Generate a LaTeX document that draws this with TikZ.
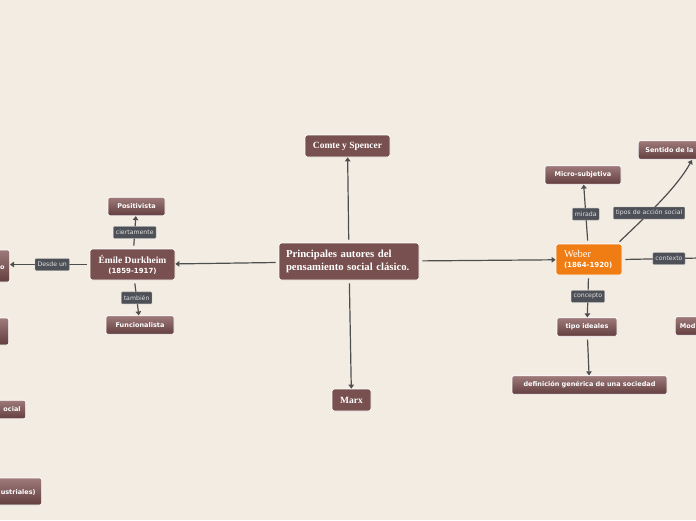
\documentclass[tikz,border=0pt]{standalone}
\usepackage{fontspec}
\usetikzlibrary{arrows.meta}
\newfontfamily\tnr{Liberation Serif}
\newfontfamily\dvs{DejaVu Sans}
\definecolor{bgc}{RGB}{243,236,226}
\definecolor{brn}{RGB}{121,80,80}
\definecolor{brntop}{RGB}{158,122,122}
\definecolor{brnbot}{RGB}{98,62,62}
\definecolor{orng}{RGB}{240,125,19}
\definecolor{lblc}{RGB}{77,80,86}
\definecolor{lnc}{RGB}{78,78,80}
\tikzset{
  mainbox/.style={draw=white, line width=0.7pt, rounded corners=2.5pt, fill=brn, text=white,
    font=\tnr\bfseries\fontsize{9.5}{11}\selectfont, inner sep=3pt},
  subbox/.style={draw=white, line width=0.7pt, rounded corners=2pt, top color=brntop, bottom color=brnbot,
    text=white, font=\dvs\bfseries\fontsize{6.5}{8}\selectfont, inner sep=2pt, minimum height=18.5pt},
  lbl/.style={fill=lblc, draw=gray!60, line width=0.3pt, rounded corners=1pt, text=white!88!black,
    font=\dvs\fontsize{6.2}{7}\selectfont, inner xsep=2.5pt, inner ysep=0pt, minimum height=12pt},
  conn/.style={draw=lnc, line width=1.2pt, shorten <=3pt, -{Triangle[width=5.5pt,length=4pt]}},
  plain/.style={draw=lnc, line width=1.2pt, shorten <=3pt}
}
\begin{document}
\begin{tikzpicture}[x=1pt,y=-1pt]
\fill[bgc] (0,0) rectangle (696,520);
\useasboundingbox (0,0) rectangle (696,520);
\clip (0,0) rectangle (696,520);

% central
\node[mainbox, minimum width=140pt, minimum height=37pt, text width=126pt, inner xsep=7pt, align=left, font=\tnr\bfseries\fontsize{10.7}{12.5}\selectfont] (c) at (349,261.5) {Principales autores del\\pensamiento social clásico.};
\node[mainbox, minimum width=85pt, minimum height=22pt] (comte) at (347.5,146) {Comte y Spencer};
\node[mainbox, minimum width=39pt, minimum height=22pt] (marx) at (351.5,400) {Marx};
\node[mainbox, minimum width=85pt, minimum height=31pt, align=center, inner ysep=2pt] (dur) at (132.5,264.5) {Émile Durkheim\\[-1pt]{\dvs\bfseries\fontsize{7}{8}\selectfont(1859-1917)}};
\node[mainbox, fill=orng, minimum width=66pt, minimum height=31pt, text width=50pt, align=left, inner xsep=8pt, font=\tnr\fontsize{10.5}{11}\selectfont] (web) at (589,259.5) {Weber\\[-1pt]{\dvs\bfseries\fontsize{7}{8}\selectfont(1864-1920)}};

% Durkheim children
\node[subbox, minimum width=57pt] (pos) at (136.5,206.5) {Positivista};
\node[subbox, minimum width=68pt] (fun) at (140,325) {Funcionalista};

% Weber children
\node[subbox, minimum width=76pt] (mic) at (583,175) {Micro-subjetiva};
\node[subbox, minimum width=60pt] (tid) at (587,327) {tipo ideales};
\node[subbox, minimum width=155pt] (def) at (589.5,385) {definición genérica de una sociedad};
\node[subbox, anchor=west, text width=80pt, align=left, inner xsep=7pt] (sen) at (638,150) {Sentido de la};
\node[subbox, anchor=west, text width=40pt, align=left, inner xsep=4.5pt] (mod) at (675,326) {Mod};
\coordinate (senin) at (692,160);
\coordinate (ctx) at (700,258);

% left edge (cut) nodes
\node[subbox, anchor=east, minimum height=32pt, text width=50pt, align=right, inner xsep=5pt] (l1) at (10,266) {~\\o};
\node[subbox, anchor=east, minimum height=27pt, minimum width=50pt] (l2) at (9,331.5) {};
\node[subbox, anchor=east, text width=40pt, align=right, inner xsep=5pt] (l3) at (26,409.5) {ocial};
\node[subbox, anchor=east, minimum height=27pt, text width=60pt, align=right, inner xsep=6pt] (l4) at (42,491.5) {~\\[-2pt]ustriales)};

% connectors from centre
\draw[conn] (c) -- (comte);
\draw[conn] (c) -- (marx);
\draw[conn] (c) -- (dur);
\draw[conn] (c) -- (web);

% Durkheim
\draw[conn] (dur) -- node[lbl]{ciertamente} (pos);
\draw[conn] (dur) -- node[lbl]{también} (fun);
\draw[conn] (dur.west) -- node[lbl, pos=0.47]{Desde un} (dur.west -| l1.east);

% Weber
\draw[conn] (web) -- node[lbl]{mirada} (mic);
\draw[conn] (web) -- node[lbl]{concepto} (tid);
\draw[conn] (tid) -- (def);
\draw[plain] (web.east) -- node[lbl, pos=0.6]{contexto} (ctx);
\draw[conn] (web.north east) ++(-5,0) .. controls (655,208) and (678,185) .. (senin);
\node[lbl] (tas) at (649,213) {tipos de acción social};
\end{tikzpicture}
\end{document}
